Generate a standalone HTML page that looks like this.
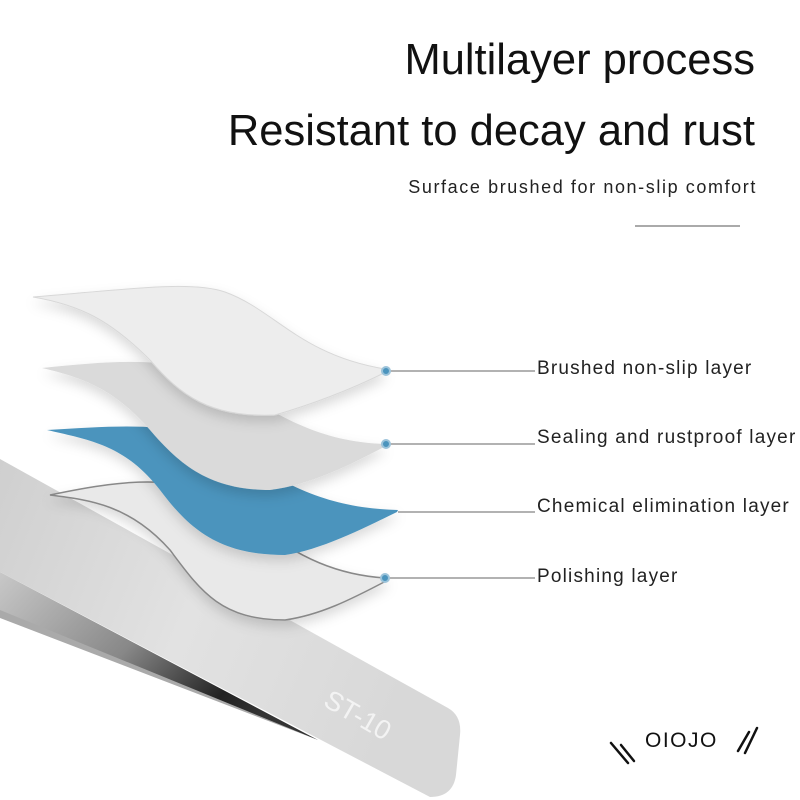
<!DOCTYPE html>
<html><head><meta charset="utf-8"><style>
body{margin:0;background:#fff;}
svg{display:block;font-family:"Liberation Sans",sans-serif;}
</style></head><body>
<svg width="800" height="800" viewBox="0 0 800 800" xmlns="http://www.w3.org/2000/svg">
<defs>
<linearGradient id="blade" x1="0" y1="0" x2="1" y2="0.3">
<stop offset="0" stop-color="#cfcfcf"/><stop offset="0.5" stop-color="#e2e2e2"/><stop offset="1" stop-color="#d8d8d8"/>
</linearGradient>
<linearGradient id="blade2" x1="0" y1="0" x2="1" y2="0.5">
<stop offset="0" stop-color="#c8c8c8"/><stop offset="0.5" stop-color="#888"/><stop offset="0.85" stop-color="#222"/><stop offset="1" stop-color="#333"/>
</linearGradient>
<filter id="sh" x="-10%" y="-10%" width="130%" height="140%"><feDropShadow dx="0" dy="6" stdDeviation="6" flood-color="#000" flood-opacity="0.15"/></filter>
</defs>
<!-- lower blade -->
<path d="M0,572 L318,740 L0,613 Z" fill="url(#blade2)"/>
<path d="M0,610 L318,740 L0,618 Z" fill="#aaa"/>
<!-- upper blade -->
<path d="M0,459 L448,708 Q462,716 460,735 L456,775 Q453,797 430,797 L0,572 Z" fill="url(#blade)"/>
<text x="0" y="0" transform="translate(322,705) rotate(30)" font-size="27" fill="#f6f6f6" opacity="0.9">ST-10</text>

<!-- layer 4 -->
<g filter="url(#sh)">
<path d="M50,495 C130,478 200,470 250,520 C300,560 340,575 385,578 L388,580 C350,600 320,615 285,620 C220,620 200,590 170,550 C130,505 90,500 50,495 Z" fill="#e9e9e9" stroke="#888" stroke-width="1.5"/>
</g>
<!-- layer 3 blue -->
<g filter="url(#sh)">
<path d="M47,430 C130,425 190,420 240,455 C300,495 340,508 398,510 L397,512 C360,530 320,550 285,555 C220,555 190,530 160,490 C125,445 90,440 47,430 Z" fill="#4b94bd"/>
</g>
<!-- layer 2 -->
<g filter="url(#sh)">
<path d="M42,368 C120,360 180,355 230,385 C290,425 330,442 385,444 L384,447 C350,465 310,485 270,490 C210,490 180,465 150,430 C115,390 85,378 42,368 Z" fill="#dadada"/>
</g>
<!-- layer 1 -->
<g filter="url(#sh)">
<path d="M33,297 C120,290 190,280 225,292 C275,310 300,355 385,369 L384,373 C350,390 310,405 275,415 C210,418 180,395 150,360 C110,320 80,305 33,297 Z" fill="#ededed" stroke="#d8d8d8" stroke-width="1"/>
</g>

<!-- connectors -->
<g stroke="#666" stroke-width="1">
<line x1="385" y1="371" x2="535" y2="371"/>
<line x1="385" y1="444" x2="535" y2="444"/>
<line x1="398" y1="512" x2="535" y2="512"/>
<line x1="385" y1="578" x2="535" y2="578"/>
</g>
<g fill="#4b94bd" stroke="#9cc3da" stroke-width="2">
<circle cx="386" cy="371" r="4"/>
<circle cx="386" cy="444" r="4"/>
<circle cx="385" cy="578" r="4"/>
</g>
<g font-size="19" fill="#222" letter-spacing="1.2">
<text x="537" y="374">Brushed non-slip layer</text>
<text x="537" y="443">Sealing and rustproof layer</text>
<text x="537" y="512">Chemical elimination layer</text>
<text x="537" y="582">Polishing layer</text>
</g>

<text x="755" y="74" font-size="43.5" fill="#111" text-anchor="end">Multilayer process</text>
<text x="755" y="145" font-size="43.5" fill="#111" text-anchor="end">Resistant to decay and rust</text>
<text x="757" y="193" font-size="18" fill="#222" text-anchor="end" letter-spacing="1.6">Surface brushed for non-slip comfort</text>
<line x1="635" y1="226" x2="740" y2="226" stroke="#555" stroke-width="1"/>

<!-- logo -->
<g stroke="#111" stroke-width="2.5" stroke-linecap="round">
<line x1="611" y1="743" x2="628" y2="763"/>
<line x1="621" y1="745" x2="634" y2="761"/>
<line x1="738" y1="751" x2="749" y2="732"/>
<line x1="745" y1="753" x2="757" y2="728"/>
</g>
<text x="645" y="747" font-size="21" fill="#111" letter-spacing="1.5">OIOJO</text>
</svg>
</body></html>
